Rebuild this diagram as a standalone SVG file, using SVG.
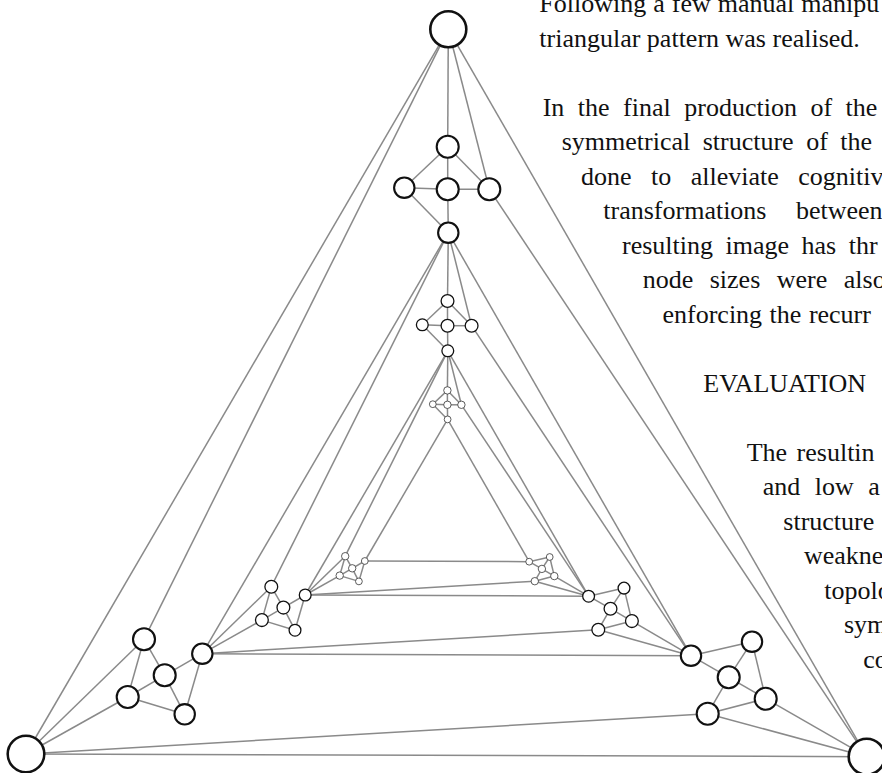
<svg xmlns="http://www.w3.org/2000/svg" width="882" height="773" viewBox="0 0 882 773">
<style>
.bg{fill:#ffffff}
#connectors line{stroke:#8a8a8a;stroke-width:1.5;fill:none}
.o{fill:#fff;stroke:#111;stroke-width:2.6}
.k1{fill:#fff;stroke:#111;stroke-width:2.1}
.k2{fill:#fff;stroke:#111;stroke-width:1.3}
.k3{fill:#fff;stroke:#333;stroke-width:0.8}
.t{font-family:"Liberation Serif","Times New Roman",serif;font-size:26px;fill:#111}
</style>
<rect class="bg" x="0" y="0" width="882" height="773"/>
<g id="connectors">
<line x1="448.3" y1="29.3" x2="26" y2="754"/>
<line x1="448.3" y1="29.3" x2="866.7" y2="756.7"/>
<line x1="26" y1="754" x2="866.7" y2="756.7"/>
<line x1="448.3" y1="29.3" x2="447.7" y2="146.7"/>
<line x1="448.3" y1="29.3" x2="489.3" y2="189.3"/>
<line x1="447.7" y1="146.7" x2="404.3" y2="187.7"/>
<line x1="447.7" y1="146.7" x2="447.7" y2="189.3"/>
<line x1="447.7" y1="146.7" x2="489.3" y2="189.3"/>
<line x1="404.3" y1="187.7" x2="447.7" y2="189.3"/>
<line x1="447.7" y1="189.3" x2="489.3" y2="189.3"/>
<line x1="404.3" y1="187.7" x2="448.3" y2="232.7"/>
<line x1="447.7" y1="189.3" x2="448.3" y2="232.7"/>
<line x1="489.3" y1="189.3" x2="866.7" y2="756.7"/>
<line x1="26" y1="754" x2="127.7" y2="697"/>
<line x1="26" y1="754" x2="144" y2="639.3"/>
<line x1="448.3" y1="29.3" x2="144" y2="639.3"/>
<line x1="127.7" y1="697" x2="144" y2="639.3"/>
<line x1="127.7" y1="697" x2="164.7" y2="675.3"/>
<line x1="144" y1="639.3" x2="164.7" y2="675.3"/>
<line x1="164.7" y1="675.3" x2="184.7" y2="714.3"/>
<line x1="127.7" y1="697" x2="184.7" y2="714.3"/>
<line x1="164.7" y1="675.3" x2="202.3" y2="653.7"/>
<line x1="184.7" y1="714.3" x2="202.3" y2="653.7"/>
<line x1="707.7" y1="713.7" x2="26" y2="754"/>
<line x1="866.7" y1="756.7" x2="765.7" y2="698.7"/>
<line x1="866.7" y1="756.7" x2="707.7" y2="713.7"/>
<line x1="765.7" y1="698.7" x2="752" y2="641.7"/>
<line x1="765.7" y1="698.7" x2="728.7" y2="677.3"/>
<line x1="765.7" y1="698.7" x2="707.7" y2="713.7"/>
<line x1="752" y1="641.7" x2="728.7" y2="677.3"/>
<line x1="728.7" y1="677.3" x2="707.7" y2="713.7"/>
<line x1="752" y1="641.7" x2="691" y2="655.7"/>
<line x1="728.7" y1="677.3" x2="691" y2="655.7"/>
<line x1="448.3" y1="232.7" x2="202.3" y2="653.7"/>
<line x1="448.3" y1="232.7" x2="691" y2="655.7"/>
<line x1="202.3" y1="653.7" x2="691" y2="655.7"/>
<line x1="448.3" y1="232.7" x2="447.5" y2="301"/>
<line x1="448.3" y1="232.7" x2="471.6" y2="325.7"/>
<line x1="447.5" y1="301" x2="422.3" y2="324.8"/>
<line x1="447.5" y1="301" x2="447.5" y2="325.7"/>
<line x1="447.5" y1="301" x2="471.6" y2="325.7"/>
<line x1="422.3" y1="324.8" x2="447.5" y2="325.7"/>
<line x1="447.5" y1="325.7" x2="471.6" y2="325.7"/>
<line x1="422.3" y1="324.8" x2="447.8" y2="350.8"/>
<line x1="447.5" y1="325.7" x2="447.8" y2="350.8"/>
<line x1="471.6" y1="325.7" x2="691" y2="655.7"/>
<line x1="202.3" y1="653.7" x2="261.9" y2="620.1"/>
<line x1="202.3" y1="653.7" x2="271.3" y2="586.7"/>
<line x1="448.3" y1="232.7" x2="271.3" y2="586.7"/>
<line x1="261.9" y1="620.1" x2="271.3" y2="586.7"/>
<line x1="261.9" y1="620.1" x2="283.4" y2="607.6"/>
<line x1="271.3" y1="586.7" x2="283.4" y2="607.6"/>
<line x1="283.4" y1="607.6" x2="295" y2="630.2"/>
<line x1="261.9" y1="620.1" x2="295" y2="630.2"/>
<line x1="283.4" y1="607.6" x2="305.2" y2="595"/>
<line x1="295" y1="630.2" x2="305.2" y2="595"/>
<line x1="598.3" y1="629.8" x2="202.3" y2="653.7"/>
<line x1="691" y1="655.7" x2="631.9" y2="621.1"/>
<line x1="691" y1="655.7" x2="598.3" y2="629.8"/>
<line x1="631.9" y1="621.1" x2="624" y2="588.1"/>
<line x1="631.9" y1="621.1" x2="610.5" y2="608.7"/>
<line x1="631.9" y1="621.1" x2="598.3" y2="629.8"/>
<line x1="624" y1="588.1" x2="610.5" y2="608.7"/>
<line x1="610.5" y1="608.7" x2="598.3" y2="629.8"/>
<line x1="624" y1="588.1" x2="588.6" y2="596.2"/>
<line x1="610.5" y1="608.7" x2="588.6" y2="596.2"/>
<line x1="447.8" y1="350.8" x2="305.2" y2="595"/>
<line x1="447.8" y1="350.8" x2="588.6" y2="596.2"/>
<line x1="305.2" y1="595" x2="588.6" y2="596.2"/>
<line x1="447.8" y1="350.8" x2="447.4" y2="390.4"/>
<line x1="447.8" y1="350.8" x2="461.4" y2="404.8"/>
<line x1="447.4" y1="390.4" x2="432.8" y2="404.2"/>
<line x1="447.4" y1="390.4" x2="447.4" y2="404.8"/>
<line x1="447.4" y1="390.4" x2="461.4" y2="404.8"/>
<line x1="432.8" y1="404.2" x2="447.4" y2="404.8"/>
<line x1="447.4" y1="404.8" x2="461.4" y2="404.8"/>
<line x1="432.8" y1="404.2" x2="447.6" y2="419.4"/>
<line x1="447.4" y1="404.8" x2="447.6" y2="419.4"/>
<line x1="461.4" y1="404.8" x2="588.6" y2="596.2"/>
<line x1="305.2" y1="595" x2="339.7" y2="575.6"/>
<line x1="305.2" y1="595" x2="345.2" y2="556.2"/>
<line x1="447.8" y1="350.8" x2="345.2" y2="556.2"/>
<line x1="339.7" y1="575.6" x2="345.2" y2="556.2"/>
<line x1="339.7" y1="575.6" x2="352.2" y2="568.3"/>
<line x1="345.2" y1="556.2" x2="352.2" y2="568.3"/>
<line x1="352.2" y1="568.3" x2="358.9" y2="581.4"/>
<line x1="339.7" y1="575.6" x2="358.9" y2="581.4"/>
<line x1="352.2" y1="568.3" x2="364.8" y2="561"/>
<line x1="358.9" y1="581.4" x2="364.8" y2="561"/>
<line x1="534.8" y1="581.2" x2="305.2" y2="595"/>
<line x1="588.6" y1="596.2" x2="554.3" y2="576.1"/>
<line x1="588.6" y1="596.2" x2="534.8" y2="581.2"/>
<line x1="554.3" y1="576.1" x2="549.7" y2="557"/>
<line x1="554.3" y1="576.1" x2="541.9" y2="568.9"/>
<line x1="554.3" y1="576.1" x2="534.8" y2="581.2"/>
<line x1="549.7" y1="557" x2="541.9" y2="568.9"/>
<line x1="541.9" y1="568.9" x2="534.8" y2="581.2"/>
<line x1="549.7" y1="557" x2="529.2" y2="561.7"/>
<line x1="541.9" y1="568.9" x2="529.2" y2="561.7"/>
<line x1="447.6" y1="419.4" x2="364.8" y2="561"/>
<line x1="447.6" y1="419.4" x2="529.2" y2="561.7"/>
<line x1="364.8" y1="561" x2="529.2" y2="561.7"/>
</g>
<g id="n-T0"><circle class="o" cx="448.3" cy="29.3" r="18"/></g>
<g id="n-L0"><circle class="o" cx="26" cy="754" r="18.3"/></g>
<g id="n-R0"><circle class="o" cx="866.7" cy="756.7" r="18"/></g>
<g id="n-Ta"><circle class="k1" cx="447.7" cy="146.7" r="11"/></g>
<g id="n-Tl"><circle class="k1" cx="404.3" cy="187.7" r="10.2"/></g>
<g id="n-Tc"><circle class="k1" cx="447.7" cy="189.3" r="11"/></g>
<g id="n-Tr"><circle class="k1" cx="489.3" cy="189.3" r="11"/></g>
<g id="n-Tb"><circle class="k1" cx="448.3" cy="232.7" r="10.2"/></g>
<g id="n-A"><circle class="k1" cx="144" cy="639.3" r="11"/></g>
<g id="n-B"><circle class="k1" cx="164.7" cy="675.3" r="11"/></g>
<g id="n-C"><circle class="k1" cx="127.7" cy="697" r="11"/></g>
<g id="n-D"><circle class="k1" cx="184.7" cy="714.3" r="10.2"/></g>
<g id="n-E"><circle class="k1" cx="202.3" cy="653.7" r="10.2"/></g>
<g id="n-F"><circle class="k1" cx="691" cy="655.7" r="10.2"/></g>
<g id="n-G"><circle class="k1" cx="752" cy="641.7" r="10.2"/></g>
<g id="n-H"><circle class="k1" cx="728.7" cy="677.3" r="11"/></g>
<g id="n-I"><circle class="k1" cx="765.7" cy="698.7" r="11"/></g>
<g id="n-J"><circle class="k1" cx="707.7" cy="713.7" r="11"/></g>
<g id="n-Ta2"><circle class="k2" cx="447.5" cy="301" r="6.4"/></g>
<g id="n-Tl2"><circle class="k2" cx="422.3" cy="324.8" r="5.9"/></g>
<g id="n-Tc2"><circle class="k2" cx="447.5" cy="325.7" r="6.4"/></g>
<g id="n-Tr2"><circle class="k2" cx="471.6" cy="325.7" r="6.4"/></g>
<g id="n-Tb2"><circle class="k2" cx="447.8" cy="350.8" r="5.9"/></g>
<g id="n-A2"><circle class="k2" cx="271.3" cy="586.7" r="6.4"/></g>
<g id="n-B2"><circle class="k2" cx="283.4" cy="607.6" r="6.4"/></g>
<g id="n-C2"><circle class="k2" cx="261.9" cy="620.1" r="6.4"/></g>
<g id="n-D2"><circle class="k2" cx="295" cy="630.2" r="5.9"/></g>
<g id="n-E2"><circle class="k2" cx="305.2" cy="595" r="5.9"/></g>
<g id="n-F2"><circle class="k2" cx="588.6" cy="596.2" r="5.9"/></g>
<g id="n-G2"><circle class="k2" cx="624" cy="588.1" r="5.9"/></g>
<g id="n-H2"><circle class="k2" cx="610.5" cy="608.7" r="6.4"/></g>
<g id="n-I2"><circle class="k2" cx="631.9" cy="621.1" r="6.4"/></g>
<g id="n-J2"><circle class="k2" cx="598.3" cy="629.8" r="6.4"/></g>
<g id="n-Ta3"><circle class="k3" cx="447.4" cy="390.4" r="3.7"/></g>
<g id="n-Tl3"><circle class="k3" cx="432.8" cy="404.2" r="3.4"/></g>
<g id="n-Tc3"><circle class="k3" cx="447.4" cy="404.8" r="3.7"/></g>
<g id="n-Tr3"><circle class="k3" cx="461.4" cy="404.8" r="3.7"/></g>
<g id="n-Tb3"><circle class="k3" cx="447.6" cy="419.4" r="3.4"/></g>
<g id="n-a"><circle class="k3" cx="345.2" cy="556.2" r="3.7"/></g>
<g id="n-b"><circle class="k3" cx="352.2" cy="568.3" r="3.7"/></g>
<g id="n-c"><circle class="k3" cx="339.7" cy="575.6" r="3.7"/></g>
<g id="n-d"><circle class="k3" cx="358.9" cy="581.4" r="3.4"/></g>
<g id="n-e"><circle class="k3" cx="364.8" cy="561" r="3.4"/></g>
<g id="n-f"><circle class="k3" cx="529.2" cy="561.7" r="3.4"/></g>
<g id="n-g"><circle class="k3" cx="549.7" cy="557" r="3.4"/></g>
<g id="n-h"><circle class="k3" cx="541.9" cy="568.9" r="3.7"/></g>
<g id="n-i"><circle class="k3" cx="554.3" cy="576.1" r="3.7"/></g>
<g id="n-j"><circle class="k3" cx="534.8" cy="581.2" r="3.7"/></g>
<g id="text">
<text class="t" x="539.3" y="12" word-spacing="0.5">Following a few manual manipu</text>
<text class="t" x="539.3" y="46.5">triangular pattern was realised.</text>
<text class="t" x="542.7" y="115.5" word-spacing="7">In the final production of the</text>
<text class="t" x="561.7" y="150" word-spacing="6">symmetrical structure of the</text>
<text class="t" x="581" y="184.5" word-spacing="13">done to alleviate cognitiv</text>
<text class="t" x="603.3" y="219" word-spacing="23">transformations between</text>
<text class="t" x="622" y="253.5" word-spacing="6">resulting image has thr</text>
<text class="t" x="642.7" y="288" word-spacing="10">node sizes were also</text>
<text class="t" x="662.5" y="322.5" word-spacing="1">enforcing the recurr</text>
<text class="t" x="703.3" y="391.5">EVALUATION</text>
<text class="t" x="746.7" y="460.5" word-spacing="3">The resultin</text>
<text class="t" x="762.7" y="495" word-spacing="8">and low a</text>
<text class="t" x="783.3" y="529.5">structure</text>
<text class="t" x="804" y="564">weakne</text>
<text class="t" x="824.3" y="598.5">topolo</text>
<text class="t" x="844" y="633">sym</text>
<text class="t" x="863.3" y="667.5">co</text>
</g>
</svg>
